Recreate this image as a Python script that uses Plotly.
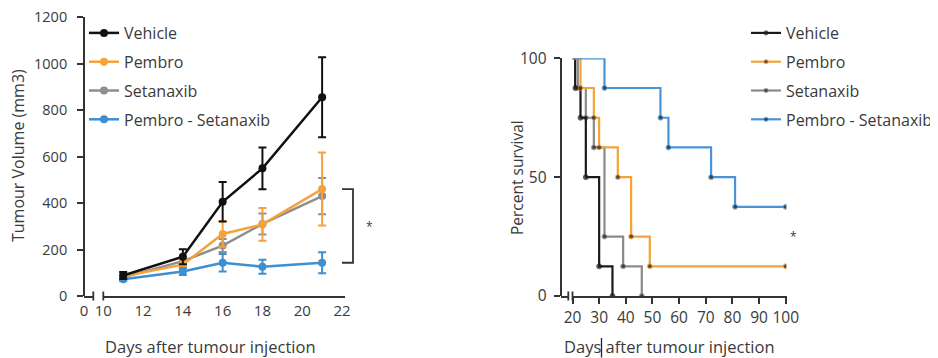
import plotly.graph_objects as go

# page body adds an 8px offset; the figure is sized so it fills the 938x358 window
OFF = 8
W, H = 938 - OFF, 358 - OFF
def fx(p): return (p - OFF) / W
def fy(p): return 1 - (p - OFF) / H

# ---------------- data: tumour volume ----------------
vol_days = [11, 14, 16, 18, 21]
vehicle_mean = [88, 169, 405, 549, 855]
vehicle_err = [15, 32, 85, 90, 172]
pembro_mean = [85, 135, 267, 308, 460]
pembro_err = [12, 20, 55, 70, 157]
setanaxib_mean = [80, 150, 217, 310, 430]
setanaxib_err = [10, 18, 28, 45, 78]
combo_mean = [72, 105, 143, 126, 143]
combo_err = [8, 15, 38, 30, 45]
vol_xticks = [10, 12, 14, 16, 18, 20, 22]
vol_yticks = [0, 200, 400, 600, 800, 1000, 1200]

# ---------------- data: survival (event day, % surviving after event) ----------------
surv_start = 20
surv_end = 100
vehicle_t = [21, 23, 25, 30, 35]
vehicle_s = [87.5, 75, 50, 12.5, 0]
pembro_t = [23, 28, 30, 37, 42, 49]
pembro_s = [87.5, 75, 62.5, 50, 25, 12.5]
setanaxib_t = [22, 25, 28, 32, 39, 46]
setanaxib_s = [87.5, 75, 62.5, 25, 12.5, 0]
combo_t = [32, 53, 56, 72, 81]
combo_s = [87.5, 75, 62.5, 50, 37.5]
surv_xticks = [20, 30, 40, 50, 60, 70, 80, 90, 100]
surv_yticks = [0, 50, 100]

names = ["Vehicle", "Pembro", "Setanaxib", "Pembro - Setanaxib"]
vol_colors = ["#111111", "#F4A23C", "#8E8E8E", "#3D8FD1"]
surv_colors = ["#1a1a1a", "#F2A33A", "#8A8A8A", "#4A93D6"]

FONT = "Open Sans"
TXT = "#3a3a3a"
AX = "#333333"

fig = go.Figure()

# left: tumour volume
vol_sets = [(vehicle_mean, vehicle_err), (pembro_mean, pembro_err),
            (setanaxib_mean, setanaxib_err), (combo_mean, combo_err)]
for i in [2, 1, 3, 0]:
    m, e = vol_sets[i]
    fig.add_trace(go.Scatter(
        x=vol_days, y=m, mode="lines+markers", name=names[i],
        line=dict(color=vol_colors[i], width=2.5),
        marker=dict(color=vol_colors[i], size=8),
        error_y=dict(type="data", array=e, visible=True, color=vol_colors[i],
                     thickness=2, width=4),
        xaxis="x", yaxis="y", legend="legend", legendrank=i + 1,
        legendgroup="v%d" % i,
    ))

# right: survival
surv_sets = [(vehicle_t, vehicle_s, False), (pembro_t, pembro_s, True),
             (setanaxib_t, setanaxib_s, False), (combo_t, combo_s, True)]
for i in [2, 0, 1, 3]:
    t, s, censored = surv_sets[i]
    xs = [surv_start] + list(t)
    ys = [100] + list(s)
    sizes = [0] + [5] * len(t)
    if censored:
        xs.append(surv_end)
        ys.append(s[-1])
        sizes.append(5)
    fig.add_trace(go.Scatter(
        x=xs, y=ys, mode="lines+markers", name=names[i],
        line=dict(color=surv_colors[i], width=2.2, shape="hv"),
        marker=dict(color="#222222", size=sizes),
        xaxis="x2", yaxis="y2", legend="legend2", legendrank=i + 1,
        legendgroup="s%d" % i,
    ))

# invisible traces so the short broken-axis stubs are drawn
fig.add_trace(go.Scatter(x=[0.5], y=[None], xaxis="x3", yaxis="y",
                         showlegend=False, hoverinfo="skip", mode="lines"))
fig.add_trace(go.Scatter(x=[0.5], y=[None], xaxis="x4", yaxis="y2",
                         showlegend=False, hoverinfo="skip", mode="lines"))

def axis_common(size, ticks="outside"):
    return dict(showline=True, linecolor=AX, linewidth=1.8, ticks=ticks,
                tickcolor=AX, tickwidth=1.8, ticklen=6, showgrid=False,
                zeroline=False, automargin=False, ticklabeloverflow="allow",
                tickfont=dict(family=FONT, size=size, color=TXT))

fig.update_layout(
    width=W, height=H, margin=dict(l=0, r=0, t=0, b=0, autoexpand=False),
    paper_bgcolor="white", plot_bgcolor="white",
    font=dict(family=FONT, color=TXT),
    xaxis=dict(domain=[fx(103.3), fx(345)], range=[10, 22.15], anchor="y",
               tickvals=vol_xticks, ticklabelstandoff=0, **axis_common(15, "")),
    xaxis3=dict(domain=[fx(84), fx(93.3)], range=[0, 1], anchor="y",
                tickvals=[0], ticklabelstandoff=0, **axis_common(15, "")),
    yaxis=dict(domain=[fy(296), fy(17)], range=[0, 1200], anchor="free",
               position=fx(84), tickvals=vol_yticks, ticklabelstandoff=7,
               **axis_common(14.5)),
    xaxis2=dict(domain=[fx(572.5), fx(786.5)], range=[20, 100.3], anchor="y2",
                tickvals=surv_xticks, **axis_common(15.5)),
    xaxis4=dict(domain=[fx(560.5), fx(568.3)], range=[0, 1], anchor="y2",
                showline=True, linecolor=AX, linewidth=1.8, showticklabels=False,
                ticks="", showgrid=False, zeroline=False, automargin=False),
    yaxis2=dict(domain=[fy(296), fy(58.3)], range=[0, 100], anchor="free",
                position=fx(560.5), tickvals=surv_yticks, ticklabelstandoff=4,
                **axis_common(15.5)),
    legend=dict(x=fx(84), y=fy(16), xanchor="left", yanchor="top",
                bgcolor="rgba(0,0,0,0)", tracegroupgap=5,
                font=dict(family=FONT, size=16, color=TXT)),
    legend2=dict(x=fx(746), y=fy(16), xanchor="left", yanchor="top",
                 bgcolor="rgba(0,0,0,0)", tracegroupgap=5,
                 font=dict(family=FONT, size=16, color=TXT)),
    showlegend=True,
)

# axis break marks
shapes = []
for xp in (93.3, 103.3, 568.3, 572.5):
    shapes.append(dict(type="line", xref="paper", yref="paper",
                       x0=fx(xp), x1=fx(xp), y0=fy(291.5), y1=fy(300.5),
                       line=dict(color=AX, width=1.8)))
# significance bracket
top_v = pembro_mean[-1]
bot_v = combo_mean[-1]
shapes.append(dict(type="path", xref="paper", yref="y",
                   path="M %f,%f L %f,%f L %f,%f L %f,%f" % (
                       fx(342), top_v, fx(353), top_v, fx(353), bot_v, fx(342), bot_v),
                   line=dict(color=AX, width=1.8)))
# text-cursor mark visible in the right x-axis title of the original
shapes.append(dict(type="line", xref="paper", yref="paper",
                   x0=fx(601.5), x1=fx(601.5), y0=fy(338), y1=fy(357.5),
                   line=dict(color="#222222", width=1.3)))
fig.update_layout(shapes=shapes)

ann = [
    dict(text="Tumour Volume (mm3)", x=fx(18), y=fy(156), textangle=-90,
         font=dict(size=16)),
    dict(text="Days after tumour injection", x=fx(210), y=fy(346),
         font=dict(size=16.5)),
    dict(text="Percent survival", x=fx(517), y=fy(178), textangle=-90,
         font=dict(size=15.5)),
    dict(text="Days after tumour injection", x=fx(669), y=fy(346),
         font=dict(size=16.5)),
    dict(text="*", x=fx(369), y=fy(227), font=dict(size=12)),
    dict(text="*", x=fx(793), y=fy(236), font=dict(size=12)),
]
for a in ann:
    a.update(xref="paper", yref="paper", showarrow=False, xanchor="center",
             yanchor="middle")
    a["font"] = dict(family=FONT, color=TXT, **a["font"])
fig.update_layout(annotations=ann)

fig.write_html("out.html")
